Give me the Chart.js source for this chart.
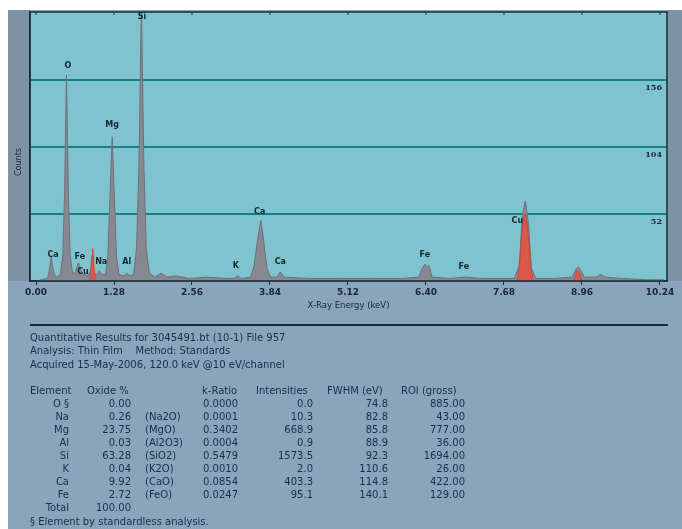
<!DOCTYPE html>
<html>
<head>
<meta charset="utf-8">
<script src="https://cdn.jsdelivr.net/npm/chart.js@4.4.1/dist/chart.umd.min.js"></script>
<style>
html,body{margin:0;padding:0;background:#fff;}
canvas{display:block;}
</style>
</head>
<body>
<canvas id="c" width="682" height="529"></canvas>
<script>
// ---- spectrum (keV, counts) ----
const spectrumEnergy = [0.00,0.10,0.18,0.20,0.23,0.25,0.27,0.30,0.34,0.40,0.44,0.47,0.50,0.53,0.56,0.60,0.64,0.68,0.70,0.72,0.77,0.85,0.90,0.93,0.96,1.01,1.04,1.08,1.14,1.18,1.21,1.25,1.29,1.32,1.36,1.44,1.49,1.54,1.60,1.65,1.69,1.73,1.77,1.81,1.86,1.95,2.05,2.15,2.30,2.50,2.80,3.10,3.25,3.31,3.37,3.52,3.58,3.63,3.69,3.74,3.79,3.85,3.95,4.01,4.07,4.50,5.00,5.50,6.00,6.28,6.33,6.38,6.42,6.45,6.50,6.80,7.03,7.06,7.30,7.85,7.93,7.98,8.03,8.08,8.13,8.20,8.50,8.80,8.86,8.90,8.94,9.00,9.20,9.26,9.35,9.60,10.00,10.30];
const spectrumCounts = [0,1,2,4,12,19,12,5,3,5,20,70,160,70,20,6,6,12,14,10,5,4,8,10,6,5,8,5,5,20,60,112,60,20,5,4,6,4,5,25,90,215,90,25,6,3,6,3,4,2,3,2,2,4,2,3,12,30,47,30,10,3,3,7,3,2,2,2,2,3,9,13,11,12,3,2,3,3,2,2,12,50,62,45,10,2,2,3,9,11,8,3,3,5,3,2,1,1];
// Cu lines (red overlay)
const cuEnergy = [0.88,0.92,0.93,0.95,0.97,7.90,7.95,7.99,8.03,8.07,8.12,8.16,8.82,8.88,8.92,8.96];
const cuCounts = [0,20,25,12,0,0,20,48,52,40,10,0,0,8,6,0];
// peak labels
const peakLabels = ["Ca","O","Fe","Cu","Na","Mg","Al","Si","K","Ca","Ca","Fe","Fe","Cu"];
const peakLabelEnergy = [0.28,0.525,0.72,0.77,1.07,1.25,1.49,1.74,3.28,3.67,4.01,6.38,7.02,7.90];
const peakLabelCounts = [20,167,19,7,15,121,15,205,12,54,15,20,11,47];
// axes
const xTickValues = [0.00,1.28,2.56,3.84,5.12,6.40,7.68,8.96,10.24];
const countLevels = [52,104,156];
// results table
const headerLines = ["Quantitative Results for 3045491.bt (10-1) File 957","Analysis: Thin Film    Method: Standards","Acquired 15-May-2006, 120.0 keV @10 eV/channel"];
const elements = ["O \u00a7","Na","Mg","Al","Si","K","Ca","Fe"];
const oxidePct = ["0.00","0.26","23.75","0.03","63.28","0.04","9.92","2.72"];
const oxideFormula = ["","(Na2O)","(MgO)","(Al2O3)","(SiO2)","(K2O)","(CaO)","(FeO)"];
const kRatio = ["0.0000","0.0001","0.3402","0.0004","0.5479","0.0010","0.0854","0.0247"];
const intensities = ["0.0","10.3","668.9","0.9","1573.5","2.0","403.3","95.1"];
const fwhm = ["74.8","82.8","85.8","88.9","92.3","110.6","114.8","140.1"];
const roi = ["885.00","43.00","777.00","36.00","1694.00","26.00","422.00","129.00"];
const totalLabel = "Total", totalValue = "100.00";
const footnote = "\u00a7 Element by standardless analysis.";

const INK = "rgb(24,38,58)";
const FONT = "'DejaVu Sans', sans-serif";

const bgPlugin = {
  id: 'bg',
  beforeDraw(chart) {
    const ctx = chart.ctx, a = chart.chartArea;
    ctx.save();
    ctx.fillStyle = "#ffffff";
    ctx.fillRect(0,0,chart.width,chart.height);
    ctx.fillStyle = "rgb(138,164,188)";
    ctx.fillRect(8,10,chart.width-8,chart.height-10);
    ctx.fillStyle = "rgb(124,148,166)";
    ctx.fillRect(8,10,a.left-8,a.bottom-10);
    ctx.fillRect(a.right,10,chart.width-a.right,a.bottom-10);
    ctx.fillStyle = "rgb(126,195,206)";
    ctx.fillRect(a.left,a.top,a.right-a.left,a.bottom-a.top);
    ctx.restore();
  },
  afterDraw(chart) {
    const ctx = chart.ctx, a = chart.chartArea, xs = chart.scales.x, ys = chart.scales.y;
    ctx.save();
    ctx.strokeStyle = "rgb(20,50,60)";
    ctx.lineWidth = 1.5;
    ctx.strokeRect(a.left, a.top, a.right-a.left, a.bottom-a.top);
    ctx.lineWidth = 1;
    xTickValues.forEach(v => {
      const px = xs.getPixelForValue(v);
      ctx.beginPath(); ctx.moveTo(px, a.top); ctx.lineTo(px, a.top+3); ctx.stroke();
    });
    ctx.fillStyle = INK;
    ctx.font = "bold 8px 'DejaVu Serif', serif";
    ctx.textAlign = "right"; ctx.textBaseline = "top";
    countLevels.forEach(v => {
      ctx.fillText(String(v), a.right-5, ys.getPixelForValue(v)+4);
    });
    ctx.font = "bold 8px " + FONT;
    ctx.textAlign = "center"; ctx.textBaseline = "middle";
    ctx.fillStyle = "rgb(20,40,45)";
    peakLabels.forEach((t,i) => {
      ctx.fillText(t, xs.getPixelForValue(peakLabelEnergy[i]), ys.getPixelForValue(peakLabelCounts[i]));
    });
    ctx.fillStyle = INK;
    ctx.font = "8.5px " + FONT;
    ctx.fillText("X-Ray Energy (keV)", (a.left+a.right)/2, 306);
    ctx.save();
    ctx.translate(19, 162); ctx.rotate(-Math.PI/2);
    ctx.font = "8px " + FONT;
    ctx.fillText("Counts", 0, 0);
    ctx.restore();
    ctx.strokeStyle = "rgb(22,40,62)";
    ctx.lineWidth = 2;
    ctx.beginPath(); ctx.moveTo(30, 325); ctx.lineTo(668, 325); ctx.stroke();
    ctx.font = "10px " + FONT;
    ctx.fillStyle = "rgb(26,44,74)";
    ctx.textAlign = "left";
    headerLines.forEach((t,i) => ctx.fillText(t, 30, 338 + i*13.8));
    const rowY0 = 391, dy = 13.1;
    ctx.fillText("Element", 30, rowY0);
    ctx.fillText("Oxide %", 87, rowY0);
    ctx.fillText("k-Ratio", 202, rowY0);
    ctx.fillText("Intensities", 256, rowY0);
    ctx.fillText("FWHM (eV)", 327, rowY0);
    ctx.fillText("ROI (gross)", 401, rowY0);
    elements.forEach((e,i) => {
      const y = rowY0 + dy*(i+1);
      ctx.textAlign = "right";
      ctx.fillText(e, 69, y);
      ctx.fillText(oxidePct[i], 131, y);
      ctx.textAlign = "left";
      ctx.fillText(oxideFormula[i], 145, y);
      ctx.fillText(kRatio[i], 203, y);
      ctx.textAlign = "right";
      ctx.fillText(intensities[i], 313, y);
      ctx.fillText(fwhm[i], 388, y);
      ctx.fillText(roi[i], 465, y);
    });
    const yT = rowY0 + dy*9;
    ctx.textAlign = "right";
    ctx.fillText(totalLabel, 69, yT);
    ctx.fillText(totalValue, 131, yT);
    ctx.textAlign = "left";
    ctx.fillText(footnote, 30, rowY0 + dy*10);
    ctx.restore();
  }
};

const toPts = (xs, ys) => xs.map((x,i) => ({x, y: ys[i]}));

new Chart(document.getElementById('c'), {
  type: 'line',
  data: {
    datasets: [
      {
        data: toPts(cuEnergy, cuCounts),
        order: 0,
        borderColor: "rgb(205,70,60)",
        backgroundColor: "rgb(218,88,74)",
        borderWidth: 1,
        fill: 'origin',
        pointRadius: 0,
        tension: 0
      },
      {
        data: toPts(spectrumEnergy, spectrumCounts),
        order: 1,
        borderColor: "rgb(110,112,122)",
        backgroundColor: "rgb(136,136,146)",
        borderWidth: 1,
        fill: 'origin',
        pointRadius: 0,
        tension: 0
      }
    ]
  },
  options: {
    responsive: false,
    animation: false,
    devicePixelRatio: 1,
    layout: { padding: { top: 12, right: 15, left: 0, bottom: 0 } },
    plugins: { legend: { display: false }, tooltip: { enabled: false } },
    scales: {
      x: {
        type: 'linear',
        min: -0.0985,
        max: 10.355,
        afterBuildTicks(s) { s.ticks = xTickValues.map(v => ({value: v})); },
        afterFit(s) { s.height = 248; },
        grid: { drawOnChartArea: false, drawTicks: true, tickLength: 4, color: "rgb(20,40,50)" },
        border: { display: true, color: "rgb(20,40,50)", width: 1.5 },
        ticks: {
          padding: 2,
          color: INK,
          font: { family: "'DejaVu Sans', sans-serif", size: 9, weight: 'bold' },
          maxRotation: 0,
          autoSkip: false,
          callback: v => Number(v).toFixed(2)
        }
      },
      y: {
        min: 0,
        max: 208.8,
        afterBuildTicks(s) { s.ticks = countLevels.map(v => ({value: v})); },
        afterFit(s) { s.width = 30; },
        grid: { drawTicks: false, color: "rgb(22,128,132)", lineWidth: 2 },
        border: { display: true, color: "rgb(20,40,50)", width: 1.5 },
        ticks: { display: false }
      }
    }
  },
  plugins: [bgPlugin]
});
</script>
</body>
</html>
